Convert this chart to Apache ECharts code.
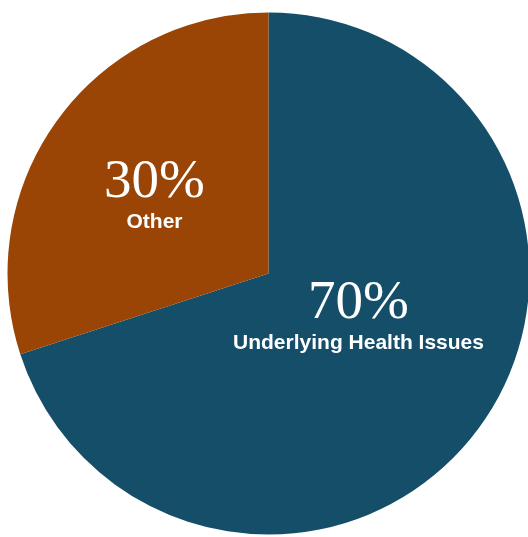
<!DOCTYPE html>
<html>
<head>
<meta charset="utf-8">
<script src="https://cdn.jsdelivr.net/npm/echarts@6/dist/echarts.min.js"></script>
<style>html,body{margin:0;padding:0;background:#fff}#c{width:528px;height:537px}</style>
</head>
<body>
<div id="c"></div>
<script>
const categories = ['Underlying Health Issues', 'Other'];
const values = [70, 30];
const colors = ['#154e68', '#9a4505'];
const labelOffsets = [[-18, -35], [-6, 1]];

const chart = echarts.init(document.getElementById('c'), null, {renderer: 'canvas'});
chart.setOption({
  animation: false,
  series: [{
    type: 'pie',
    center: [268.5, 273.5],
    radius: 261,
    startAngle: 90,
    clockwise: true,
    silent: true,
    itemStyle: {borderWidth: 0},
    label: {
      show: true,
      position: 'inside',
      formatter: p => '{a|' + p.value + '%}\n{b|' + p.name + '}',
      rich: {
        a: {fontFamily: 'Liberation Serif', fontSize: 55, lineHeight: 52, color: '#fff', align: 'center'},
        b: {fontFamily: 'Liberation Sans', fontWeight: 'bold', fontSize: 21, lineHeight: 26, color: '#fff', align: 'center'}
      }
    },
    labelLine: {show: false},
    data: categories.map((n, i) => ({
      name: n, value: values[i],
      itemStyle: {color: colors[i]},
      label: {offset: labelOffsets[i]}
    }))
  }]
});
</script>
</body>
</html>
